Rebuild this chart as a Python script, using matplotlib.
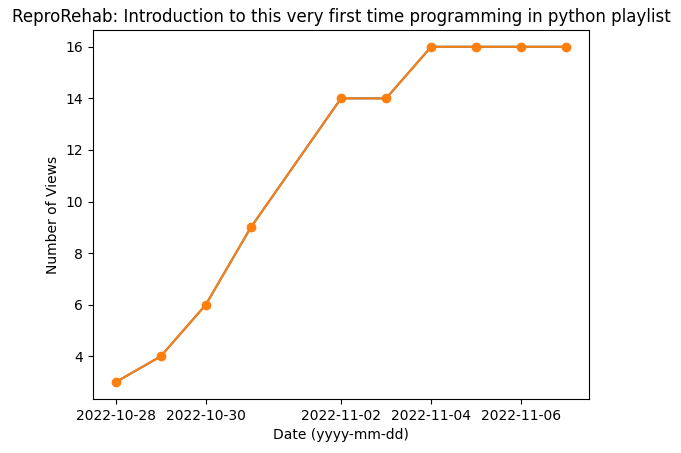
import matplotlib
matplotlib.use("Agg")
import matplotlib.pyplot as plt
import matplotlib.dates as mdates
import pandas as pd

dates = ["2022-10-28", "2022-10-29", "2022-10-30", "2022-10-31", "2022-11-02",
         "2022-11-03", "2022-11-04", "2022-11-05", "2022-11-06", "2022-11-07"]
views = [3, 4, 6, 9, 14, 14, 16, 16, 16, 16]

x = pd.to_datetime(dates)
fig = plt.figure(figsize=(6.81, 4.53), dpi=100)
ax = fig.add_axes([93/681, 1-399/453, (589-93)/681, (399-30)/453])
ax.plot(x, views)
ax.plot(x, views, marker="o")
ax.xaxis.set_major_locator(mdates.DayLocator(bymonthday=[2, 4, 6, 28, 30]))
ax.xaxis.set_major_formatter(mdates.DateFormatter("%Y-%m-%d"))
ax.set_title("ReproRehab: Introduction to this very first time programming in python playlist")
ax.set_xlabel("Date (yyyy-mm-dd)")
ax.set_ylabel("Number of Views")
fig.savefig("out.png")
